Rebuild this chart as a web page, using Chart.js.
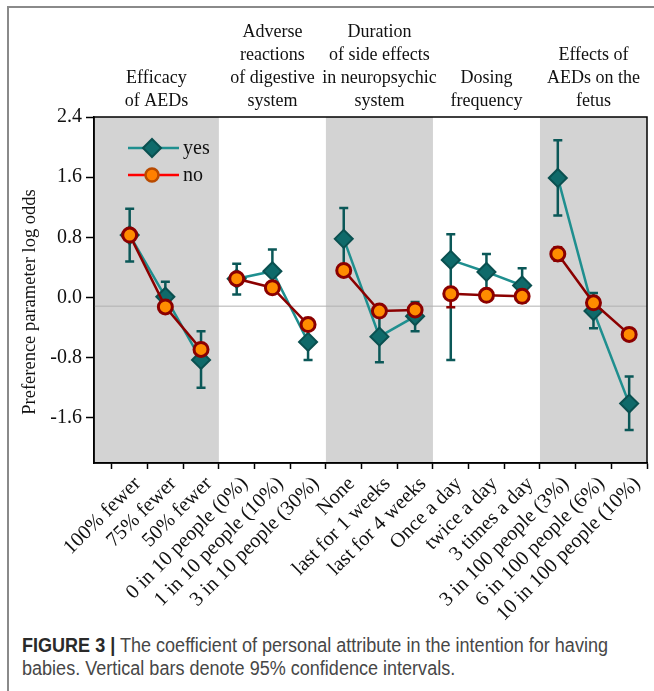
<!DOCTYPE html>
<html><head><meta charset="utf-8">
<script src="https://cdn.jsdelivr.net/npm/chart.js@4/dist/chart.umd.min.js"></script>
<style>
html,body{margin:0;padding:0;background:#fff;overflow:hidden;width:654px;height:691px;}
#frame{position:absolute;left:7px;top:6px;width:700px;height:720px;border-left:2px solid #8a8a8a;border-top:2px solid #8a8a8a;}
#wrap{position:absolute;left:0;top:0;width:654px;height:625px;}
#caption{position:absolute;left:22px;top:634px;font-family:"Liberation Sans",Arial,sans-serif;font-size:19.5px;line-height:23px;color:#474747;white-space:nowrap;transform-origin:0 0;}
#caption div{display:inline-block;}
#caption b{color:#2a2a2a;font-weight:700;}
</style></head><body>
<div id="frame"></div>
<div id="wrap"><canvas id="c" style="width:654px;height:625px"></canvas></div>
<div id="caption"><div id="cap1"><b>FIGURE 3 |</b> The coefficient of personal attribute in the intention for having</div><br><div>babies. Vertical bars denote 95% confidence intervals.</div></div>
<script>
// ---- data ----
const categories = ['100% fewer','75% fewer','50% fewer','0 in 10 people (0%)','1 in 10 people (10%)','3 in 10 people (30%)','None','last for 1 weeks','last for 4 weeks','Once a day','twice a day','3 times a day','3 in 100 people (3%)','6 in 100 people (6%)','10 in 100 people (10%)'];
const groupTitles = [['Efficacy','of AEDs'],['Adverse','reactions','of digestive','system'],['Duration','of side effects','in neuropsychic','system'],['Dosing','frequency'],['Effects of','AEDs on the','fetus']];
const groupOf = [0,0,0,1,1,1,2,2,2,3,3,3,4,4,4];
const shadedGroups = [0,2,4];
const yesVals = [0.83, 0.01, -0.83, 0.25, 0.35, -0.59, 0.78, -0.52, -0.25, 0.50, 0.34, 0.16, 1.59, -0.18, -1.41];
const yesLow  = [0.48, -0.19, -1.20, 0.04, 0.06, -0.83, 0.37, -0.86, -0.45, -0.83, 0.10, -0.07, 1.09, -0.41, -1.76];
const yesHigh = [1.18, 0.21, -0.45, 0.45, 0.64, -0.35, 1.19, -0.18, -0.06, 0.84, 0.58, 0.39, 2.09, 0.06, -1.05];
const noVals  = [0.83, -0.125, -0.69, 0.25, 0.13, -0.36, 0.36, -0.18, -0.165, 0.05, 0.03, 0.016, 0.58, -0.07, -0.49];
const noLow   = [0.76, -0.19, -0.76, 0.19, 0.07, -0.43, 0.30, -0.24, -0.23, -0.13, -0.03, -0.04, 0.49, -0.13, -0.55];
const noHigh  = [0.90, -0.06, -0.62, 0.31, 0.19, -0.29, 0.42, -0.12, -0.10, 0.12, 0.09, 0.07, 0.67, -0.01, -0.43];
const yTicks = [-1.6, -0.8, 0.0, 0.8, 1.6, 2.4];
const yRange = [-2.2, 2.4];
const refLine = -0.115;
const yTitle = 'Preference parameter log odds';
const seriesNames = ['yes','no'];

// ---- styles ----
const SERIF = '"Liberation Serif","Times New Roman",serif';
const YES_LINE = '#1f8f8f', YES_FILL = '#0f6a6a', YES_EDGE = '#0a5050', YES_ERR = '#0b5858';
const NO_LINE = '#8b0000', NO_FILL = '#ff8c00', NO_EDGE = '#8b0000', NO_ERR = '#8b0000';

// fit caption line width to the reference (condensed sans)
(function(){
  const w = document.getElementById('cap1').getBoundingClientRect().width;
  document.getElementById('caption').style.transform = 'scaleX(' + (586 / w) + ')';
})();

const xTicks = [];
for (let i = 0; i < categories.length; i++) { xTicks.push(i - 0.5, i); }
xTicks.push(categories.length - 0.5);

function pts(vals){ return vals.map((v,i)=>({x:i, y:v})); }
function segColor(color){ return ctx => groupOf[ctx.p0DataIndex] === groupOf[ctx.p1DataIndex] ? color : 'rgba(0,0,0,0)'; }
function groupSpan(chart, g){
  const {chartArea:a, scales:{x}} = chart;
  const idx = groupOf.map((v,i)=>v===g?i:-1).filter(i=>i>=0);
  const x0 = g === 0 ? a.left : x.getPixelForValue(idx[0]-0.5);
  const x1 = Math.min(a.right, x.getPixelForValue(idx[idx.length-1]+0.5));
  return [x0, x1];
}

const decor = {
  id: 'decor',
  beforeDraw(chart){
    const {ctx, chartArea:a} = chart;
    ctx.save();
    ctx.fillStyle = '#d3d3d3';
    shadedGroups.forEach(g => {
      const [x0, x1] = groupSpan(chart, g);
      ctx.fillRect(x0, a.top, x1-x0, a.bottom-a.top);
    });
    ctx.restore();
  },
  beforeDatasetsDraw(chart){
    const {ctx, chartArea:a, scales:{x,y}} = chart;
    ctx.save();
    ctx.strokeStyle = '#b0b0b0'; ctx.lineWidth = 1;
    const yr = y.getPixelForValue(refLine);
    ctx.beginPath(); ctx.moveTo(a.left, yr); ctx.lineTo(a.right, yr); ctx.stroke();
    const drawErr = (lo, hi, color) => {
      ctx.strokeStyle = color; ctx.lineWidth = 2.5;
      lo.forEach((l,i)=>{
        const px = x.getPixelForValue(i), p0 = y.getPixelForValue(l), p1 = y.getPixelForValue(hi[i]);
        ctx.beginPath();
        ctx.moveTo(px,p0); ctx.lineTo(px,p1);
        ctx.moveTo(px-4.5,p0); ctx.lineTo(px+4.5,p0);
        ctx.moveTo(px-4.5,p1); ctx.lineTo(px+4.5,p1);
        ctx.stroke();
      });
    };
    drawErr(yesLow, yesHigh, YES_ERR);
    drawErr(noLow, noHigh, NO_ERR);
    ctx.restore();
  },
  afterDraw(chart){
    const {ctx, chartArea:a} = chart;
    ctx.save();
    ctx.strokeStyle = '#000'; ctx.lineWidth = 1.5;
    ctx.strokeRect(a.left, a.top, a.right-a.left, a.bottom-a.top);
    ctx.fillStyle = '#111'; ctx.font = '18px ' + SERIF; ctx.textAlign = 'center'; ctx.textBaseline = 'alphabetic';
    groupTitles.forEach((lines,g)=>{
      const [x0, x1] = groupSpan(chart, g);
      const cx = (x0+x1)/2;
      lines.forEach((t,k)=>{
        ctx.fillText(t, cx, a.top - 11 - (lines.length-1-k)*23);
      });
    });
    ctx.save();
    ctx.translate(30, (a.top+a.bottom)/2 + 12);
    ctx.rotate(-Math.PI/2);
    ctx.font = '18.5px ' + SERIF; ctx.textBaseline = 'middle';
    ctx.fillText(yTitle, 0, 0);
    ctx.restore();
    const lx0 = a.left + 34, lx1 = a.left + 85, mx = a.left + 58;
    const rows = [
      {name:seriesNames[0], y:a.top+31, line:YES_LINE, fill:YES_FILL, edge:YES_EDGE, style:'rectRot', r:9, bw:2},
      {name:seriesNames[1], y:a.top+58, line:'#ff0000', fill:'#ff8000', edge:'#b84a00', style:'circle', r:6.5, bw:2.5}
    ];
    rows.forEach(r=>{
      ctx.strokeStyle = r.line; ctx.lineWidth = 2.5;
      ctx.beginPath(); ctx.moveTo(lx0, r.y); ctx.lineTo(lx1, r.y); ctx.stroke();
      ctx.fillStyle = r.fill; ctx.strokeStyle = r.edge; ctx.lineWidth = r.bw;
      Chart.helpers.drawPoint(ctx, {pointStyle:r.style, radius:r.r, borderWidth:r.bw, rotation:0}, mx, r.y);
      ctx.fillStyle = '#111'; ctx.font = '20px ' + SERIF; ctx.textAlign = 'left'; ctx.textBaseline = 'middle';
      ctx.fillText(r.name, lx1 + 4, r.y + 1);
    });
    ctx.restore();
  }
};

new Chart(document.getElementById('c'), {
  type: 'line',
  data: {
    datasets: [
      { label: seriesNames[1], data: pts(noVals), borderColor: NO_LINE, borderWidth: 2.5,
        pointStyle: 'circle', pointRadius: 7, pointBackgroundColor: NO_FILL, pointBorderColor: NO_EDGE, pointBorderWidth: 3,
        segment: { borderColor: segColor(NO_LINE) }, tension: 0, fill: false, order: 0 },
      { label: seriesNames[0], data: pts(yesVals), borderColor: YES_LINE, borderWidth: 2.5,
        pointStyle: 'rectRot', pointRadius: 9, pointBackgroundColor: YES_FILL, pointBorderColor: YES_EDGE, pointBorderWidth: 2,
        segment: { borderColor: segColor(YES_LINE) }, tension: 0, fill: false, order: 1 }
    ]
  },
  options: {
    responsive: false, animation: false,
    layout: { autoPadding: false, padding: { top: 117, right: 7, left: 0, bottom: 0 } },
    plugins: { legend: { display: false }, tooltip: { enabled: false } },
    scales: {
      x: {
        type: 'linear', min: -1, max: categories.length - 0.5,
        afterBuildTicks: s => { s.ticks = xTicks.map(v => ({value: v})); },
        afterFit: s => { s.height = 162; s.paddingLeft = 0; s.paddingRight = 0; },
        ticks: { autoSkip: false, minRotation: 45, maxRotation: 45, padding: 3, labelOffset: 8, color: '#111',
          font: { family: SERIF, size: 20.5 },
          callback: v => Number.isInteger(v) ? categories[v] : '' },
        grid: { drawOnChartArea: false, tickLength: 6, tickWidth: 1.5,
          tickColor: c => (c.tick && !Number.isInteger(c.tick.value)) ? '#000' : 'rgba(0,0,0,0)' },
        border: { display: true, color: '#000', width: 1.5 }
      },
      y: {
        min: yRange[0], max: yRange[1],
        afterBuildTicks: s => { s.ticks = yTicks.map(v => ({value: v})); },
        afterFit: s => { s.width = 94; s.paddingTop = 0; s.paddingBottom = 0; },
        ticks: { padding: 4, color: '#111', font: { family: SERIF, size: 20 }, callback: v => v.toFixed(1) },
        grid: { drawOnChartArea: false, tickLength: 8, tickWidth: 1.5, tickColor: '#000' },
        border: { display: true, color: '#000', width: 1.5 }
      }
    }
  },
  plugins: [decor]
});
</script>
</body></html>
